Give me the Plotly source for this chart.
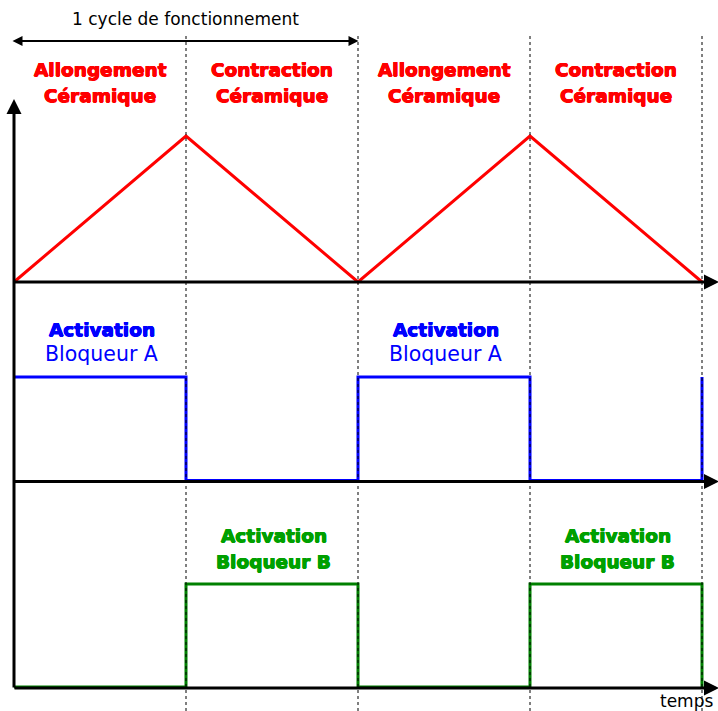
import plotly.graph_objects as go

# ---- data ----
t_bounds = [0, 1, 2, 3, 4]              # half-cycle boundaries (time units)
ceramic = [0, 1, 0, 1, 0]                # ceramic elongation (triangle)
blocker_a = [1, 0, 1, 0, 1]              # blocker A activation (square)
blocker_b = [0, 1, 0, 1, 0]              # blocker B activation (square)
phase_line1 = ["Allongement", "Contraction", "Allongement", "Contraction"]
phase_line2 = ["Céramique", "Céramique", "Céramique", "Céramique"]
a_centers = [0.5, 2.5]
b_centers = [1.5, 3.5]
cycle_label = "1 cycle de fonctionnement"
time_label = "temps"

# ---- layout constants (pixel-like y from bottom) ----
W, H = 718, 711
PX = 172.0  # pixels per time unit
X0 = 14.0
def tx(px):
    return (px - X0) / PX
def ty(py):
    return H - py

lane_c = dict(base=ty(282), amp=146)
lane_a = dict(base=ty(480.5), amp=103.5)
lane_b = dict(base=ty(687), amp=103)

RED = "#ff0000"
BLUE = "#0000ff"
GREEN_LINE = "#008000"
GREEN_TXT = "#00a000"

def heavy(col):
    return f"0.5px 0 0 {col}, -0.5px 0 0 {col}, 0 0.5px 0 {col}, 0 -0.5px 0 {col}"

fig = go.Figure()

fig.add_trace(go.Scatter(x=t_bounds, y=[lane_c["base"] + lane_c["amp"] * v for v in ceramic],
                         mode="lines", line=dict(color=RED, width=3), hoverinfo="skip"))
fig.add_trace(go.Scatter(x=t_bounds, y=[lane_a["base"] + lane_a["amp"] * v for v in blocker_a],
                         mode="lines", line=dict(color=BLUE, width=3, shape="hv"), hoverinfo="skip"))
fig.add_trace(go.Scatter(x=t_bounds, y=[lane_b["base"] + lane_b["amp"] * v for v in blocker_b],
                         mode="lines", line=dict(color=GREEN_LINE, width=3, shape="hv"), hoverinfo="skip"))

shapes = []
for t in t_bounds[1:]:
    shapes.append(dict(type="line", xref="x", yref="y", x0=t, x1=t, y0=0, y1=ty(35),
                       line=dict(color="black", width=1, dash="dot"), layer="above"))
fig.update_layout(shapes=shapes)

ann = []
x_end = tx(719)
# horizontal axes with arrows
for py in [282, 481.5, 688]:
    ann.append(dict(x=x_end, y=ty(py), ax=tx(13), ay=ty(py), xref="x", yref="y", axref="x", ayref="y",
                    text="", showarrow=True, arrowhead=2, arrowsize=1, arrowwidth=3, arrowcolor="black",
                    standoff=0))
# vertical axis
ann.append(dict(x=tx(14), y=ty(99), ax=tx(14), ay=ty(689), xref="x", yref="y", axref="x", ayref="y",
                text="", showarrow=True, arrowhead=2, arrowsize=1, arrowwidth=3, arrowcolor="black"))
# cycle double arrow
ann.append(dict(x=tx(358.5), y=ty(41), ax=tx(11), ay=ty(41), xref="x", yref="y",
                axref="x", ayref="y", text="", showarrow=True, arrowhead=2, startarrowhead=2,
                arrowside="end+start", arrowsize=1, arrowwidth=2, arrowcolor="black"))
ann.append(dict(x=tx(185), y=ty(19), xref="x", yref="y", text=cycle_label, showarrow=False,
                font=dict(family="DejaVu Sans", size=17, color="black")))
ann.append(dict(x=tx(686), y=ty(701), xref="x", yref="y", text=time_label, showarrow=False,
                font=dict(family="DejaVu Sans", size=17, color="black")))

BSZ = 18.5
bold_red = dict(family="DejaVu Sans", size=BSZ, color=RED, weight="bold", shadow=heavy(RED))
for i in range(4):
    c = (t_bounds[i] + t_bounds[i + 1]) / 2
    ann.append(dict(x=c, y=ty(69), xref="x", yref="y", text=phase_line1[i], showarrow=False, font=bold_red))
    ann.append(dict(x=c, y=ty(95), xref="x", yref="y", text=phase_line2[i], showarrow=False, font=bold_red))

for c in a_centers:
    ann.append(dict(x=c + 0.01, y=ty(329), xref="x", yref="y", text="Activation", showarrow=False,
                    font=dict(family="DejaVu Sans", size=BSZ, color=BLUE, weight="bold", shadow=heavy(BLUE))))
    ann.append(dict(x=c + 0.01, y=ty(354), xref="x", yref="y", text="Bloqueur A", showarrow=False,
                    font=dict(family="DejaVu Sans", size=20.5, color=BLUE)))
for c in b_centers:
    gfont = dict(family="DejaVu Sans", size=BSZ, color=GREEN_TXT, weight="bold", shadow=heavy(GREEN_TXT))
    ann.append(dict(x=c + 0.01, y=ty(535), xref="x", yref="y", text="Activation", showarrow=False, font=gfont))
    ann.append(dict(x=c + 0.01, y=ty(561), xref="x", yref="y", text="Bloqueur B", showarrow=False, font=gfont))

fig.update_layout(
    annotations=ann,
    width=W, height=H,
    margin=dict(l=0, r=0, t=0, b=0),
    paper_bgcolor="white", plot_bgcolor="white",
    showlegend=False,
    xaxis=dict(range=[tx(0), tx(W)], visible=False, fixedrange=True),
    yaxis=dict(range=[0, H], visible=False, fixedrange=True),
)

fig.write_html("out.html", config={"displayModeBar": False},
               post_script="document.body.style.margin='0';document.body.style.overflow='hidden';")
